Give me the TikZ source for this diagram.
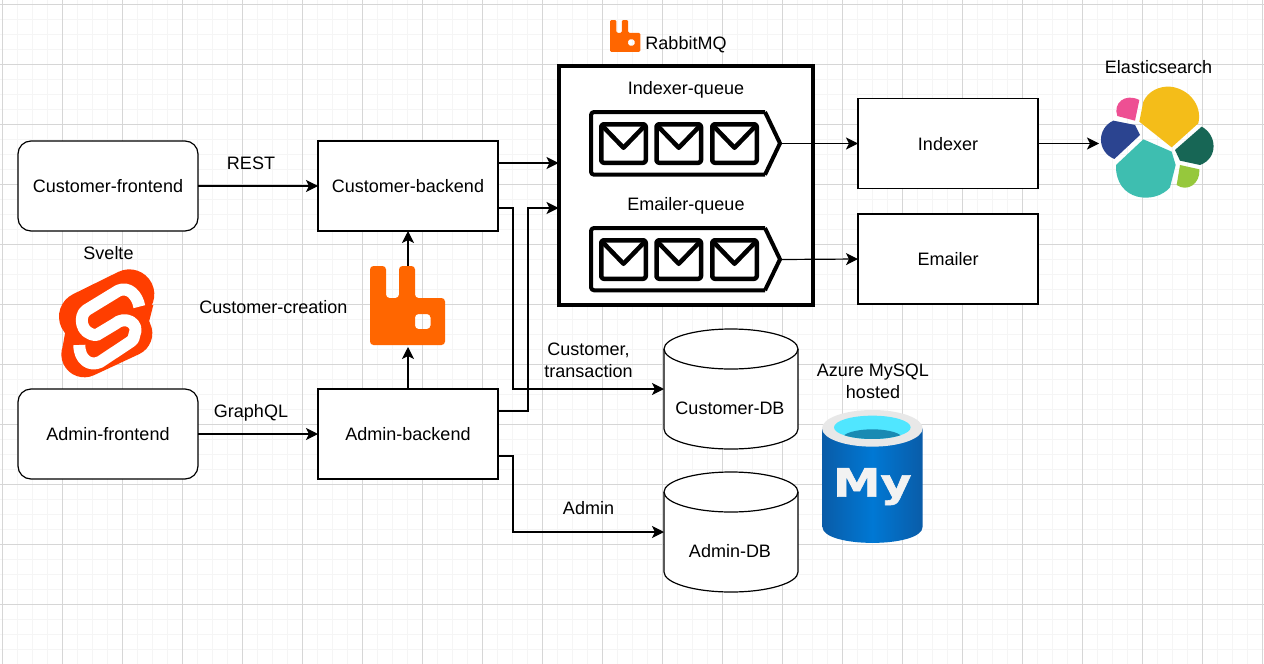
\documentclass[tikz,border=0pt]{standalone}
\usepackage{fontspec}
\setmainfont{Liberation Sans}
\newfontfamily\mylogofont[BoldFeatures={FakeBold=1.5}]{DejaVu Sans}
\usetikzlibrary{arrows.meta}
\definecolor{gridmajor}{HTML}{D6D6D6}
\definecolor{gridminor}{HTML}{F5F5F5}
\definecolor{rabbitorange}{HTML}{FF6600}
\definecolor{svelteorange}{HTML}{FF3E00}
\definecolor{esyellow}{HTML}{F4BD19}
\definecolor{espink}{HTML}{EE4F93}
\definecolor{esblue}{HTML}{2B4490}
\definecolor{esteal}{HTML}{3EBEB0}
\definecolor{esgreen}{HTML}{176655}
\definecolor{eslime}{HTML}{96C83C}
\definecolor{mysqledge}{HTML}{0A5CA8}
\definecolor{mysqlmid}{HTML}{0078D4}
\definecolor{mysqlrim}{HTML}{E8E8E8}
\definecolor{mysqlcyan}{HTML}{50E6FF}
\definecolor{mysqldeep}{HTML}{198AB3}
\tikzset{
  x=1pt,y=-1pt,
  every node/.style={font=\fontsize{18}{22}\selectfont,text=black,inner sep=0pt,outer sep=0pt},
  plainbox/.style={draw=black,line width=1.2pt,fill=white,minimum width=180pt,minimum height=90pt,text height=13pt,text depth=0pt},
  roundbox/.style={plainbox,rounded corners=13pt},
  caption/.style={text height=13pt,text depth=0pt,align=center},
  twolines/.style={align=center},
  dbspot/.style={minimum width=134pt,minimum height=120pt},
  rabbitspot/.style={minimum width=75pt,minimum height=79pt},
  conn/.style={draw=black,line width=1.2pt,-{Stealth[length=12pt,width=12pt,inset=3pt]}},
  heavyline/.style={draw=black,line width=4pt,line join=round},
  envline/.style={draw=black,line width=4.5pt,line join=round},
  dbline/.style={draw=black,line width=1.2pt,fill=white},
}
\newcommand{\qenvelope}[2]{%
  \draw[envline,rounded corners=2.5pt] (#1,#2) rectangle ++(44.5,-38.5);
  \draw[envline] (#1+0.5,#2-37.5) -- (#1+22.25,#2-15) -- (#1+44,#2-37.5);
}
\newcommand{\rabbitlogo}[3]{%
  \begin{scope}[shift={(#1,#2)},x=#3 pt,y=-#3 pt]
    \fill[rabbitorange,even odd rule,rounded corners=#3*3.5pt]
      (0,0) -- (16,0) -- (16,32) -- (29,32) -- (29,0) -- (45,0) -- (45,32) -- (75,32) -- (75,79) -- (0,79) -- cycle
      (45,48) -- (45,63) -- (60.5,63) -- (60.5,48) -- cycle;
  \end{scope}%
}
\begin{document}
\begin{tikzpicture}
\useasboundingbox (0,0) rectangle (1264,664);
\fill[white] (0,0) rectangle (1264,664);
% grid
\foreach \i in {0,...,84} {\draw[gridminor,line width=1pt] (2.5+15*\i,0) -- (2.5+15*\i,664);}
\foreach \j in {0,...,44} {\draw[gridminor,line width=1pt] (0,4.5+15*\j) -- (1264,4.5+15*\j);}
\foreach \i in {0,...,21} {\draw[gridmajor,line width=1pt] (2.5+60*\i,0) -- (2.5+60*\i,664);}
\foreach \j in {0,...,11} {\draw[gridmajor,line width=1pt] (0,4.5+60*\j) -- (1264,4.5+60*\j);}

% boxes
\node[roundbox] (cf) at (108,186) {Customer-frontend};
\node[roundbox] (af) at (108,434) {Admin-frontend};
\node[plainbox] (cb) at (408,186) {Customer-backend};
\node[plainbox] (ab) at (408,434) {Admin-backend};
\node[plainbox] (ix) at (948,143.5) {Indexer};
\node[plainbox] (em) at (948,259) {Emailer};

% databases
\draw[dbline] (664,349) .. controls (664,338) and (694,329) .. (731,329) .. controls (768,329) and (798,338) .. (798,349)
  -- (798,429) .. controls (798,440) and (768,449) .. (731,449) .. controls (694,449) and (664,440) .. (664,429) -- cycle;
\draw[draw=black,line width=1.2pt] (664,349) .. controls (664,360) and (694,369) .. (731,369) .. controls (768,369) and (798,360) .. (798,349);
\draw[dbline] (664,492) .. controls (664,481) and (694,472) .. (731,472) .. controls (768,472) and (798,481) .. (798,492)
  -- (798,572) .. controls (798,583) and (768,592) .. (731,592) .. controls (694,592) and (664,583) .. (664,572) -- cycle;
\draw[draw=black,line width=1.2pt] (664,492) .. controls (664,503) and (694,512) .. (731,512) .. controls (768,512) and (798,503) .. (798,492);
\node[dbspot] (cdb) at (731,389) {};
\node[dbspot] (adb) at (731,532) {};
\node[caption] (cdbt) at (730,408) {Customer-DB};
\node[caption] (adbt) at (730,551) {Admin-DB};

% RabbitMQ box and queues
\node[draw=black,line width=4pt,fill=white,minimum width=254pt,minimum height=239pt] (rmq) at (686,185.5) {};
\draw[heavyline,rounded corners=3pt] (765,112) -- (591,112) -- (591,174.7) -- (765,174.7);
\draw[heavyline] (765,112) -- (780,143.3) -- (765,174.7);
\draw[heavyline,rounded corners=3pt] (765,228) -- (591,228) -- (591,290.3) -- (765,290.3);
\draw[heavyline] (765,228) -- (780,259.3) -- (765,290.3);
\coordinate (q1) at (781,143.5);
\coordinate (q2) at (781,259.5);
\foreach \ex in {601.25,656.5,712.25} {\qenvelope{\ex}{162.75}\qenvelope{\ex}{278.75}}
\node[caption] (iq) at (686,88) {Indexer-queue};
\node[caption] (eq) at (686,204) {Emailer-queue};

% rabbit logos and their places
\node[rabbitspot] (rb) at (408,305.5) {};
\rabbitlogo{370}{266}{1}
\rabbitlogo{610}{20}{0.405}

% connectors
\draw[conn] (cf) -- (cb);
\draw[conn] (af) -- (ab);
\draw[conn,shorten >=2pt] (ab.north) -- (rb.south);
\draw[conn] (rb.north) -- (cb.south);
\draw[conn,shorten >=0.5pt] ([yshift=23pt]cb.east) -- ([yshift=23pt]cb.east -| rmq.west);
\draw[conn] ([yshift=-22pt]cb.east) -- ++(15,0) |- (cdb.west);
\draw[conn,shorten >=0.5pt] ([yshift=23pt]ab.east) -- ++(30,0) |- ([yshift=-22pt]cb.east -| rmq.west);
\draw[conn] ([yshift=-22pt]ab.east) -- ++(15,0) |- (adb.west);
\draw[conn] (q1) -- (ix.west);
\draw[conn] (q2) -- (em.west);
\coordinate (elastic) at (1099,143.5);
\draw[conn] (ix.east) -- (elastic);

% labels
\node[caption] (lrest) at (251,163) {REST};
\node[caption] (lgql) at (251,411) {GraphQL};
\node[caption] (lsv) at (108.5,253) {Svelte};
\node[caption] (lcc) at (273.5,307) {Customer-creation};
\node[twolines] (lct) at (588.5,360) {Customer,\\transaction};
\node[caption] (ladm) at (588.5,508) {Admin};
\node[twolines] (laz) at (873,381) {Azure MySQL\\hosted};
\node[caption] (les) at (1158.5,67) {Elasticsearch};
\node[caption] (lrb) at (686,43) {RabbitMQ};

% svelte logo
\begin{scope}[shift={(40,260)},x=0.3333pt,y=-0.3333pt]
  \draw[svelteorange,line width=50pt,line cap=round] (132,170) -- (268,103);
  \draw[svelteorange,line width=46pt,line cap=round] (133,283) -- (268,220);
  \fill[svelteorange] (70,170) -- (76,215) -- (68,260) -- (335,235) -- (328,182) -- (340,135) -- cycle;
  \draw[white,line width=12pt,line join=round] (298,140) .. controls (292,105) and (265,78) .. (235,92) -- (140,150)
     .. controls (115,165) and (120,225) .. (170,225) -- (225,192) .. controls (255,165) and (300,190) .. (283,225)
     .. controls (282,235) and (280,240) .. (272,245) -- (180,306) .. controls (150,320) and (118,300) .. (118,255);
\end{scope}

% elastic logo
\begin{scope}[shift={(1080,70)},x=0.3333pt,y=-0.3333pt]
  \fill[esyellow] (178,155) -- (190,95) .. controls (205,62) and (240,48) .. (270,50) .. controls (325,55) and (368,105) .. (355,160) -- (275,232) -- cycle;
  \fill[espink] (178,90) -- (165,152) -- (112,138) .. controls (98,100) and (135,68) .. (178,90) -- cycle;
  \fill[esblue] (100,152) -- (165,165) -- (180,195) -- (103,267) .. controls (50,245) and (50,175) .. (100,152) -- cycle;
  \fill[esteal] (190,208) -- (275,245) -- (287,285) -- (270,352) .. controls (225,405) and (105,395) .. (108,285) -- cycle;
  \fill[esgreen] (365,170) .. controls (412,195) and (415,265) .. (360,285) -- (300,272) -- (285,240) -- cycle;
  \fill[eslime] (300,285) -- (358,298) .. controls (362,340) and (322,368) .. (290,345) -- cycle;
\end{scope}

% mysql logo
\begin{scope}[shift={(800,350)},x=0.3333pt,y=-0.3333pt]
  \shade[left color=mysqledge,right color=mysqledge,middle color=mysqlmid]
    (67,235) -- (67,530) .. controls (67,595) and (368,595) .. (368,530) -- (368,235) -- cycle;
  \fill[mysqlrim] (217,235) ellipse[x radius=151,y radius=55];
  \fill[mysqlcyan] (217,232) ellipse[x radius=115,y radius=35];
  \begin{scope}
    \clip (217,232) ellipse[x radius=115,y radius=35];
    \fill[mysqldeep] (217,265) ellipse[x radius=90,y radius=27];
  \end{scope}
  \node[font=\fontsize{39}{39}\mylogofont\bfseries\selectfont,text=white!95!black,xscale=1.22,anchor=base] (mylogo) at (217,440) {My};
\end{scope}
\end{tikzpicture}
\end{document}
